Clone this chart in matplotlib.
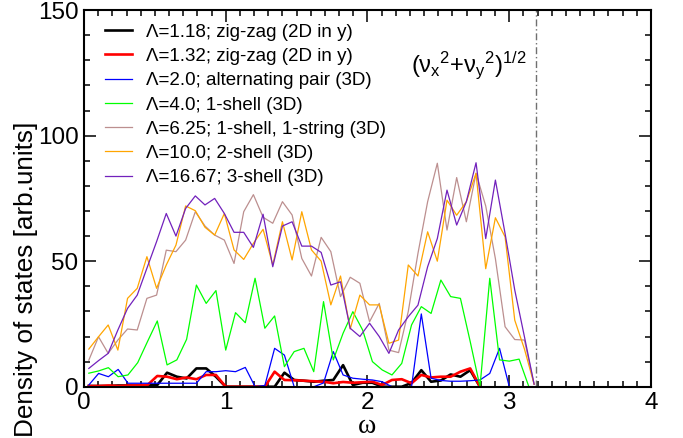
import numpy as np
import matplotlib
matplotlib.use("Agg")
import matplotlib.pyplot as plt
from matplotlib.ticker import MultipleLocator

plt.rcParams['font.family'] = ['Liberation Sans', 'DejaVu Sans']
plt.rcParams['mathtext.fontset'] = 'custom'
plt.rcParams['mathtext.rm'] = 'Liberation Sans'
plt.rcParams['mathtext.it'] = 'Liberation Sans'

# Bin centres of the two frequency histograms
omega_a = np.linspace(0.034, 3.176, 47)   # Lambda = 6.25, 10.0, 16.67
omega_b = np.linspace(0.034, 3.139, 46)   # Lambda = 1.18, 1.32, 2.0, 4.0

dos_118 = [0.3, 0.3, 0.3, 0.5, 0.5, 0.5, 0.7, 0.7, 5.6, 4.0, 3.3, 7.3, 7.3, 4.0,
           0.0, 0.0, 0.0, 0.0, 0.0, 0.0, 5.6, 2.7, 2.4, 2.0, 2.4, 2.7, 8.6, 0.7,
           1.6, 1.6, 0.0, 0.0, 0.0, 1.5, 6.6, 2.0, 2.5, 4.9, 4.0, 6.6, 0.0]
dos_132 = [0.3, 0.3, 0.5, 0.3, 0.5, 0.5, 0.7, 4.3, 4.0, 3.0, 3.7, 3.0, 4.7, 4.7,
           0.0, 0.0, 0.0, 0.0, 0.0, 6.0, 2.7, 2.6, 2.4, 2.2, 2.0, 1.4, 1.9, 1.6,
           1.8, 2.0, 0.7, 2.7, 3.0, 1.4, 4.7, 3.7, 4.0, 4.0, 6.0, 7.3, 0.0]
dos_200 = [0.7, 5.3, 4.0, 6.9, 1.4, 1.4, 1.4, 1.4, 1.4, 1.4, 1.4, 1.4, 6.0, 6.0,
           6.4, 6.0, 7.7, 0.0, 0.5, 15.3, 12.6, 0.0, 0.0, 0.0, 1.5, 14.0, 4.7,
           3.4, 3.0, 2.7, 2.0, 0.0, 0.0, 0.0, 29.0, 3.4, 2.5, 2.2, 2.2, 2.4, 2.7,
           5.3, 15.3, 0.0]
dos_400 = [5.4, 6.3, 7.6, 4.0, 4.7, 9.6, 18.0, 26.2, 8.7, 10.7, 18.9, 40.5, 33.2,
           38.3, 14.6, 29.5, 25.5, 43.2, 23.3, 28.2, 8.0, 14.0, 15.3, 6.0, 33.9,
           10.7, 21.3, 29.9, 22.6, 10.0, 6.7, 4.7, 9.3, 24.6, 31.9, 29.2, 42.5,
           35.9, 35.2, 18.0, 0.0, 43.2, 10.7, 10.2, 11.0, 0.0]
dos_625 = [10.6, 19.9, 13.3, 18.6, 23.0, 22.6, 35.2, 36.5, 54.4, 53.8, 58.4, 69.7,
           64.0, 60.4, 58.4, 49.1, 69.7, 76.5, 67.5, 65.1, 73.7, 68.4, 51.1, 44.1,
           59.5, 53.8, 35.9, 43.6, 41.2, 25.9, 33.2, 14.6, 13.6, 30.0, 53.1, 73.7,
           89.0, 62.4, 83.3, 65.7, 85.0, 72.0, 51.0, 23.9, 18.8, 18.6, 1.0]
dos_1000 = [15.0, 19.9, 24.6, 14.6, 35.2, 39.2, 51.8, 39.2, 48.5, 56.4, 72.0, 70.1,
            63.5, 60.4, 69.0, 54.5, 50.7, 57.1, 62.7, 48.5, 65.7, 50.5, 69.7, 54.5,
            50.0, 32.6, 44.1, 23.0, 36.5, 32.6, 32.6, 17.3, 18.6, 48.5, 44.1, 61.7,
            50.0, 74.3, 68.3, 73.7, 85.0, 47.0, 67.3, 59.7, 26.5, 15.0, 1.0]
dos_1667 = [7.3, 10.4, 13.3, 22.6, 31.2, 36.5, 47.2, 57.8, 69.0, 60.0, 71.0, 76.0,
            72.4, 75.0, 69.0, 61.5, 61.5, 55.5, 68.7, 47.8, 64.0, 65.7, 56.0, 56.0,
            53.5, 40.5, 41.8, 23.3, 20.0, 25.3, 20.0, 13.3, 22.6, 27.9, 32.5, 47.8,
            59.0, 78.3, 64.4, 73.7, 89.2, 59.0, 82.3, 61.0, 38.5, 19.9, 1.0]

labels = ["Λ=1.18; zig-zag (2D in y)",
          "Λ=1.32; zig-zag (2D in y)",
          "Λ=2.0; alternating pair (3D)",
          "Λ=4.0; 1-shell (3D)",
          "Λ=6.25; 1-shell, 1-string (3D)",
          "Λ=10.0; 2-shell (3D)",
          "Λ=16.67; 3-shell (3D)"]
omega_max = 3.19

fig = plt.figure(figsize=(6.83, 4.38), dpi=100)
ax = fig.add_axes([0.123, 0.117, 0.830, 0.860])

series = [
    (omega_b, dos_118, "#000000", 1.9),
    (omega_b, dos_132, "#ff0000", 1.9),
    (omega_b, dos_200, "#0000ff", 0.9),
    (omega_b, dos_400, "#00ff00", 0.9),
    (omega_a, dos_625, "#bc8f8f", 0.9),
    (omega_a, dos_1000, "#ffa500", 0.9),
    (omega_a, dos_1667, "#7221bc", 0.9),
]
for (x, y, c, lw), lab in zip(series, labels):
    ax.plot(x[:len(y)], y, color=c, lw=lw, label=lab)

ax.axvline(omega_max, color="#707070", lw=1.0, ls=(0, (5, 2, 1, 2)))
ax.text(2.31, 125.5, r"$(\nu_{x}{}^{2}$+$\nu_{y}{}^{2})^{1/2}$",
        fontsize=17, va="baseline", ha="left")

ax.set_xlim(0, 4)
ax.set_ylim(0, 150)
ax.xaxis.set_major_locator(MultipleLocator(1))
ax.xaxis.set_minor_locator(MultipleLocator(0.1))
ax.yaxis.set_major_locator(MultipleLocator(50))
ax.yaxis.set_minor_locator(MultipleLocator(10))
ax.tick_params(which="both", direction="in", top=True, right=True, width=1.1)
ax.tick_params(which="major", length=8.5, labelsize=17.5, pad=4)
ax.tick_params(which="minor", length=4.3)
for s in ax.spines.values():
    s.set_linewidth(1.5)

ax.set_xlabel("ω", fontsize=20, family=["Liberation Serif", "DejaVu Serif"], labelpad=0)
ax.set_ylabel("Density of states [arb.units]", fontsize=18.8)
ax.yaxis.set_label_coords(-0.082, 0.285)

ax.legend(loc="upper left", bbox_to_anchor=(0.037, 0.964), frameon=False,
          fontsize=13.5, handlelength=1.45, handletextpad=0.75,
          labelspacing=0.38, borderpad=0, borderaxespad=0)

fig.savefig("out.png", dpi=100)
